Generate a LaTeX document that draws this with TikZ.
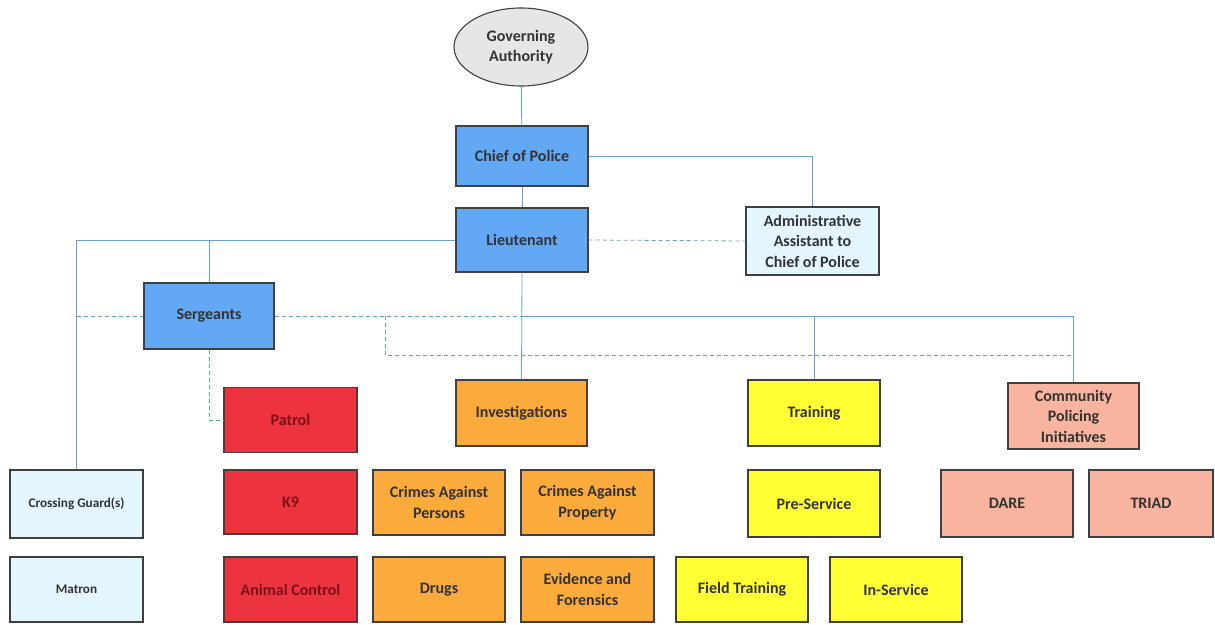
\documentclass[tikz,border=0pt]{standalone}
\usepackage{fontspec}
\setmainfont{Carlito}
\usetikzlibrary{shapes.geometric}
\definecolor{bluebox}{HTML}{62A8F4}
\definecolor{greyell}{HTML}{E6E6E6}
\definecolor{lightbox}{HTML}{E3F5FD}
\definecolor{redbox}{HTML}{EE3340}
\definecolor{redtext}{HTML}{7A1018}
\definecolor{orangebox}{HTML}{FBAA3C}
\definecolor{yellowbox}{HTML}{FFFF33}
\definecolor{salmonbox}{HTML}{F9B4A0}
\definecolor{linkcol}{HTML}{6C9FD0}
\definecolor{txtcol}{HTML}{333333}
\definecolor{edgecol}{HTML}{404040}
\begin{document}
\begin{tikzpicture}[x=1pt,y=-1pt,
  base/.style={draw=edgecol,line width=1.1pt,align=center,text=txtcol,
    font=\fontsize{16}{20.5}\selectfont\bfseries,inner sep=1pt},
  orgbox/.style={base,rectangle,minimum width=132pt,minimum height=65pt},
  bluenode/.style={orgbox,fill=bluebox},
  lightnode/.style={orgbox,fill=lightbox},
  rednode/.style={orgbox,fill=redbox,text=redtext},
  orangenode/.style={orgbox,fill=orangebox},
  yellownode/.style={orgbox,fill=yellowbox},
  salmonnode/.style={orgbox,fill=salmonbox},
  smalltext/.style={font=\fontsize{13.2}{16}\selectfont\bfseries},
  link/.style={draw=linkcol,line width=0.8pt},
  dlink/.style={draw=linkcol,line width=0.8pt,dash pattern=on 4pt off 3pt}]
\useasboundingbox (0,0) rectangle (1215,624);
\fill[white] (0,0) rectangle (1215,624);
% nodes
\node[base,ellipse,fill=greyell,minimum width=134pt,minimum height=78pt,inner sep=0pt] (ga) at (521,47) {Governing\\Authority};
\node[bluenode,minimum height=60pt] (chief) at (522,156) {Chief of Police};
\node[bluenode,minimum height=64pt] (lt) at (522,240) {Lieutenant};
\node[lightnode,minimum width=133pt,minimum height=68pt] (admin) at (812.5,241) {Administrative\\Assistant to\\Chief of Police};
\node[bluenode,minimum width=130pt,minimum height=66pt] (sgt) at (209,316) {Sergeants};
\node[rednode,minimum width=133pt] (patrol) at (290.5,420) {Patrol};
\node[rednode,minimum width=133pt,minimum height=64pt] (k9) at (290.5,502) {K9};
\node[rednode,minimum width=133pt] (animal) at (290.5,589.5) {Animal Control};
\node[orangenode,minimum width=131pt,minimum height=66pt] (inv) at (521.5,413) {Investigations};
\node[yellownode,minimum height=66pt] (train) at (814,413) {Training};
\node[salmonnode,minimum width=131pt,minimum height=66pt] (comm) at (1073.5,416) {Community\\Policing\\Initiatives};
\node[lightnode,smalltext,minimum width=133pt,minimum height=68pt] (cross) at (76.5,504) {Crossing Guard(s)};
\node[lightnode,smalltext,minimum width=133pt] (matron) at (76.5,589.5) {Matron};
\node[orangenode] (cap) at (439,502.5) {Crimes Against\\Persons};
\node[orangenode,minimum width=133pt] (cprop) at (587.5,502.5) {Crimes Against\\Property};
\node[orangenode] (drugs) at (439,589.5) {Drugs};
\node[orangenode,minimum width=133pt] (evid) at (587.5,589.5) {Evidence and\\Forensics};
\node[yellownode,minimum height=67pt] (pre) at (814,503.5) {Pre-Service};
\node[yellownode] (field) at (742,589.5) {Field Training};
\node[yellownode] (insvc) at (896,589.5) {In-Service};
\node[salmonnode,minimum height=67pt] (dare) at (1007,503.5) {DARE};
\node[salmonnode,minimum width=124pt,minimum height=67pt] (triad) at (1151,503.5) {TRIAD};
% connectors
\draw[link] (ga) -- (chief);
\draw[link] (chief) -- (lt);
\draw[link] (chief.east) -| (admin.north);
\draw[link] (lt.west) -| (cross.north);
\draw[link] (sgt.north) -- (sgt.north |- lt.west);
\draw[dlink] (lt.east) -- (admin.west);
\draw[link] (lt.south) -- (inv.north);
\coordinate (hub) at (inv.north |- sgt.east);
\draw[link] (hub) -| (comm.north);
\draw[link] (train.north |- hub) -- (train.north);
\draw[dlink] (cross.north |- sgt.west) -- (sgt.west);
\draw[dlink] (sgt.east) -- (hub);
\coordinate (dj) at (385,316);
\coordinate (dk) at (385,355);
\draw[dlink] (dj) -- (dk) -- (comm.north |- dk);
\draw[dlink] (sgt.south) |- (patrol.west);
\end{tikzpicture}
\end{document}
